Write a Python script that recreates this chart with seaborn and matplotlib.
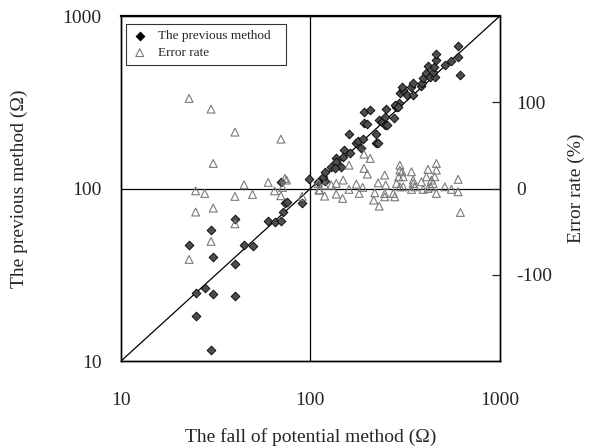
import matplotlib
matplotlib.use("Agg")
import matplotlib.pyplot as plt
import seaborn as sns
import pandas as pd

# ── data ──────────────────────────────────────────────────
# diamonds: fall of potential method vs previous method (Ω)
fall_prev = [22.9, 24.8, 24.8, 27.7, 29.9, 29.9, 30.7, 30.7, 40.0, 40.0,
             40.0, 44.7, 49.5, 59.9, 64.7, 69.9, 71.3, 73.3, 74.9, 69.9,
             89.9, 98.6, 110, 119, 117, 119, 129, 136, 137, 146,
             135, 150, 162, 149, 160, 175, 179, 185, 189, 192,
             206, 192, 198, 222, 221, 229, 231, 238, 248, 248,
             254, 250, 277, 285, 294, 297, 309, 303, 322, 349,
             342, 349, 386, 391, 394, 410, 427, 454, 445, 418,
             450, 463, 463, 513, 553, 605, 605, 620, 279, 291]
prev = [46.9, 24.7, 18.2, 26.5, 57.4, 11.6, 40.2, 24.4, 66.6, 36.5,
        23.8, 47.0, 46.2, 64.8, 63.7, 64.5, 73.1, 82.7, 83.8, 109.5,
        82.1, 113, 108.6, 111, 117, 124, 134, 150, 143, 134,
        131, 167, 161, 153, 207, 183, 189, 173, 195, 279,
        285, 241, 237, 207, 184, 184, 250, 244, 261, 233,
        233, 288, 255, 298, 312, 356, 372, 389, 348, 348,
        389, 407, 394, 407, 435, 465, 445, 445, 475, 515,
        508, 556, 600, 520, 551, 670, 581, 453, 305, 298]

# triangles: fall of potential method (Ω) vs error rate (%)
fall_err = [22.9, 29.9, 40.0, 69.9, 30.7, 44.7, 59.9, 73.3, 74.9, 24.8,
            27.7, 40.0, 49.5, 64.7, 69.9, 71.3, 90.5, 24.8, 30.7, 40.0,
            29.9, 22.9, 111,
            137, 129, 119, 110, 112, 119, 137, 148, 149, 160,
            160, 175, 189, 181, 192, 207, 192, 200, 228, 250,
            219, 247, 274, 216, 231, 247, 247, 285, 297, 297,
            305, 293, 309, 297, 342, 349, 349, 342, 386, 394,
            418, 463, 463, 410, 436, 445, 454, 432, 463, 513,
            556, 603, 603, 620, 279, 309, 356, 418]
err = [104.6, 92.2, 65.5, 57.4, 29.2, 4.4, 7.2, 11.8, 9.9, -2.6,
       -5.6, -9.0, -6.7, -2.6, -8.3, 1.4, -9.0, -27.2, -22.6, -40.8,
       -61.2, -82.1, -1.7,
       6.0, 4.1, 4.1, 6.0, -1.7, -8.7, -6.4, -11.4, 9.9, -0.9,
       27.2, 5.2, 1.4, -5.6, 40.0, 35.0, 23.4, 16.8, 6.7, 4.1,
       -4.9, -5.6, -5.6, -13.3, -20.3, -9.5, 15.7, 6.0, 27.2, 21.4,
       19.5, 13.7, 13.7, 2.1, 19.5, 9.9, 6.0, -0.9, 7.9, -0.9,
       22.3, 29.2, 21.4, 13.7, 9.9, 6.0, 13.7, 2.1, -5.6, 2.1,
       -0.9, 10.7, -3.7, -27.6, -9.5, 2.1, 2.1, 0.2]

x_ticks = [10, 100, 1000]
y_ticks = [10, 100, 1000]
err_ticks = [-100, 0, 100]

df_prev = pd.DataFrame({"fall": fall_prev, "prev": prev})
df_err = pd.DataFrame({"fall": fall_err, "err": err})

# ── style ─────────────────────────────────────────────────
sns.set_style("white")
plt.rcParams["font.family"] = ["Liberation Serif", "DejaVu Serif"]

fig = plt.figure(figsize=(5.9, 4.48), dpi=100)
ax = fig.add_axes([0.205, 0.194, 0.642, 0.770])
ax2 = ax.twinx()

sns.scatterplot(data=df_prev, x="fall", y="prev", ax=ax, marker="D", s=20,
                color="#4d4d4d", edgecolor="black", linewidth=0.6, zorder=3,
                label="The previous method", legend=False)
sns.scatterplot(data=df_err, x="fall", y="err", ax=ax2, marker="^", s=32,
                facecolor="none", edgecolor="#7a7a7a", linewidth=0.8, zorder=3,
                label="Error rate", legend=False)

ax.set_xscale("log")
ax.set_yscale("log")
ax.set_xlim(10, 1000)
ax.set_ylim(10, 1000)
ax2.set_ylim(-200, 200)

# reference lines
ax.axline((10, 10), (1000, 1000), color="black", linewidth=0.9, zorder=2)
ax.axvline(100, color="black", linewidth=0.9, zorder=2)
ax.axhline(100, color="black", linewidth=0.9, zorder=2)

ax.set_xticks(x_ticks)
ax.set_xticklabels([str(t) for t in x_ticks])
ax.set_yticks(y_ticks)
ax.set_yticklabels([str(t) for t in y_ticks])
ax.minorticks_off()
ax.tick_params(axis="x", length=0, pad=22, labelsize=14)
ax.tick_params(axis="y", length=0, pad=14, labelsize=14)

ax2.set_yticks(err_ticks)
ax2.set_yticklabels([str(t) for t in err_ticks])
ax2.tick_params(axis="y", direction="in", length=6, width=0.9, pad=12,
                labelsize=14)

ax.set_xlabel("The fall of potential method (Ω)", fontsize=14, labelpad=14)
ax.set_ylabel("The previous method (Ω)", fontsize=14, labelpad=25)
ax2.set_ylabel("Error rate (%)", fontsize=14, labelpad=11)

for a in (ax, ax2):
    for sp in a.spines.values():
        sp.set_color("black")
        sp.set_linewidth(1.0)
        sp.set_visible(True)
ax.spines["top"].set_linewidth(1.6)

h1, l1 = ax.get_legend_handles_labels()
h2, l2 = ax2.get_legend_handles_labels()
leg = ax2.legend(h1 + h2, l1 + l2, loc="upper left", mode="expand",
                 bbox_to_anchor=(0.013, 0.0, 0.422, 0.977), fontsize=9.5,
                 frameon=True, fancybox=False, edgecolor="black",
                 borderpad=0.45, handletextpad=0.8, labelspacing=0.35,
                 borderaxespad=0.0, handlelength=1.2)
leg.get_frame().set_linewidth(0.8)
leg.legend_handles[0].set_facecolor("black")

fig.savefig("out.png", dpi=100)
